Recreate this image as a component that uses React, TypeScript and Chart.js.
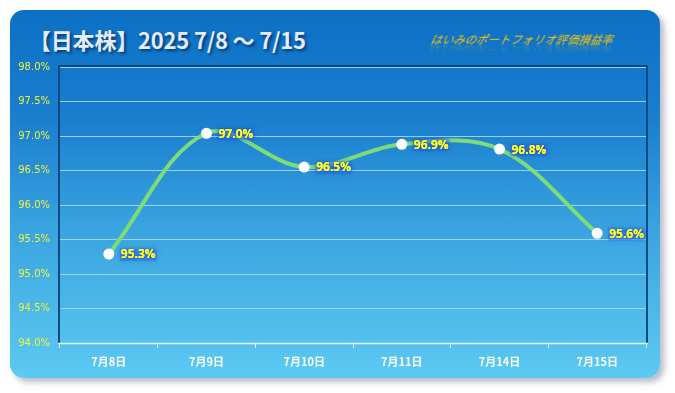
import React, { useEffect, useRef } from "react";
import { Chart, registerables } from "chart.js";

Chart.register(...registerables);

const categories = ["7月8日", "7月9日", "7月10日", "7月11日", "7月14日", "7月15日"];
const values = [95.29, 97.04, 96.55, 96.88, 96.81, 95.59];
const valueLabels = ["95.3%", "97.0%", "96.5%", "96.9%", "96.8%", "95.6%"];
const yMin = 94;
const yMax = 98;
const yStep = 0.5;
const titleText = "【日本株】2025 7/8 ～ 7/15";
const subtitleText = "はいみのポートフォリオ評価損益率";

const frameAndLabels = {
  id: "frameAndLabels",
  beforeDatasetsDraw(chart: any) {
    const { ctx, chartArea: a } = chart;
    ctx.save();
    ctx.strokeStyle = "#0a4a82";
    ctx.lineWidth = 2;
    ctx.beginPath();
    ctx.moveTo(a.left - 1, a.bottom);
    ctx.lineTo(a.left - 1, a.top - 1);
    ctx.lineTo(a.right + 1, a.top - 1);
    ctx.lineTo(a.right + 1, a.bottom);
    ctx.stroke();
    ctx.strokeStyle = "#e8f2fa";
    ctx.lineWidth = 1.5;
    ctx.beginPath();
    ctx.moveTo(a.left - 2, a.bottom + 0.5);
    ctx.lineTo(a.right + 2, a.bottom + 0.5);
    ctx.stroke();
    ctx.restore();
  },
  afterDatasetsDraw(chart: any) {
    const { ctx } = chart;
    const meta = chart.getDatasetMeta(0);
    ctx.save();
    ctx.font = "bold 12px 'Open Sans', sans-serif";
    ctx.textAlign = "left";
    ctx.textBaseline = "middle";
    meta.data.forEach((pt: any, i: number) => {
      const x = pt.x + 12;
      const y = pt.y + 1;
      const txt = valueLabels[i];
      const w = ctx.measureText(txt).width;
      ctx.fillStyle = "rgba(40,100,230,0.35)";
      ctx.shadowColor = "rgba(30,80,230,0.9)";
      ctx.shadowBlur = 5;
      ctx.fillRect(x - 1, y - 6, w + 2, 12);
      ctx.shadowBlur = 3;
      ctx.shadowColor = "rgba(20,60,210,1)";
      ctx.fillStyle = "#ffff1a";
      ctx.fillText(txt, x, y);
      ctx.shadowBlur = 0;
      ctx.fillText(txt, x, y);
    });
    ctx.restore();
  },
};

export default function App() {
  const ref = useRef<HTMLCanvasElement>(null);
  useEffect(() => {
    if (!ref.current) return;
    const chart = new Chart(ref.current, {
      type: "line",
      data: {
        labels: categories,
        datasets: [
          {
            data: values,
            borderColor: "#7ddb78",
            borderWidth: 4,
            tension: 0.36,
            pointRadius: 5.5,
            pointBackgroundColor: "#ffffff",
            pointBorderColor: "#ffffff",
            pointBorderWidth: 0,
            fill: false,
          },
        ],
      },
      options: {
        animation: false,
        responsive: false,
        maintainAspectRatio: false,
        layout: { padding: { left: 10, right: 29, top: 67, bottom: 0 } },
        plugins: { legend: { display: false }, tooltip: { enabled: false } },
        scales: {
          x: {
            offset: true,
            border: { display: false },
            grid: {
              offset: true,
              drawOnChartArea: false,
              drawTicks: true,
              tickLength: 5,
              color: "#e8f2fa",
            },
            ticks: {
              color: "#ffffff",
              font: { family: "'Noto Sans CJK JP', sans-serif", size: 11, weight: "bold" },
              padding: 7,
              maxRotation: 0,
            },
            afterFit(s: any) {
              s.height = 50;
            },
          },
          y: {
            min: yMin,
            max: yMax,
            border: { display: false },
            grid: { color: "rgba(170,215,245,0.9)", lineWidth: 1, drawTicks: false },
            ticks: {
              stepSize: yStep,
              color: "#eef23a",
              font: { family: "'DejaVu Sans', sans-serif", size: 10 },
              padding: 10,
              callback: (v: any) => Number(v).toFixed(1) + "%",
            },
            afterFit(s: any) {
              s.width = 50;
            },
          },
        },
      },
      plugins: [frameAndLabels],
    });
    return () => chart.destroy();
  }, []);

  return (
    <div style={{ position: "fixed", left: 0, top: 0, width: 675, height: 393, background: "#ffffff", overflow: "hidden" }}>
      <div
        style={{
          position: "absolute",
          left: 10,
          top: 10,
          width: 650,
          height: 368,
          borderRadius: 14,
          background: "linear-gradient(180deg, #0c70c5 0%, #1a7fcf 30%, #3aa4e0 60%, #5ccaf2 100%)",
          boxShadow: "4px 4px 6px rgba(120,130,150,0.55)",
        }}
      />
      <div
        style={{
          position: "absolute",
          left: 29,
          top: 25,
          fontFamily: "'Noto Sans CJK JP', sans-serif",
          fontWeight: 700,
          fontSize: 22,
          lineHeight: "28px",
          letterSpacing: -0.2,
          color: "#e3ecf7",
          textShadow: "2px 2px 3px rgba(0,30,80,0.7)",
          whiteSpace: "nowrap",
        }}
      >
        {titleText}
      </div>
      <div
        style={{
          position: "absolute",
          left: 431,
          top: 31,
          fontFamily: "'Noto Sans CJK JP', sans-serif",
          fontStyle: "italic",
          fontSize: 11.4,
          lineHeight: "16px",
          color: "#ffc400",
          whiteSpace: "nowrap",
          transform: "skewX(-12deg)",
          WebkitBoxReflect: "below -5px linear-gradient(transparent 30%, rgba(255,255,255,0.45))",
        } as any}
      >
        {subtitleText}
      </div>
      <canvas ref={ref} width={675} height={393} style={{ position: "absolute", left: 0, top: 0 }} />
    </div>
  );
}
